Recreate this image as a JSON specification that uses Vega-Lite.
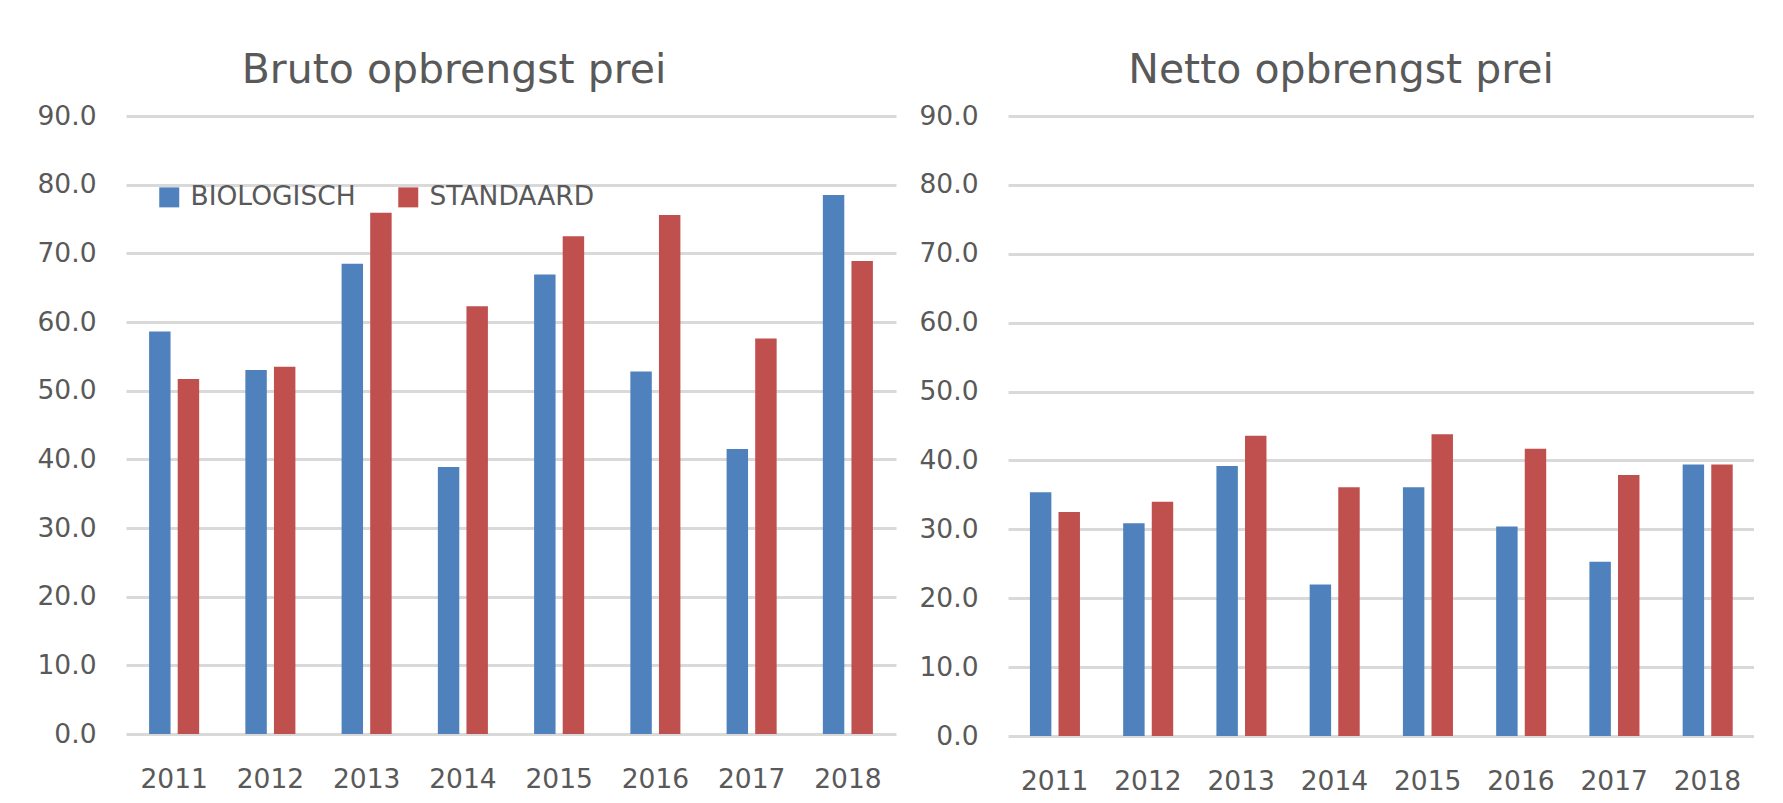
{
  "$schema": "https://vega.github.io/schema/vega-lite/v6.json",
  "background": "white",
  "padding": {"left": 36, "top": 50, "right": 0, "bottom": 0},
  "spacing": 22,
  "data": {
    "values": [
      {"panel": "Bruto", "year": "2011", "type": "BIOLOGISCH", "value": 58.6},
      {"panel": "Bruto", "year": "2012", "type": "BIOLOGISCH", "value": 53.0},
      {"panel": "Bruto", "year": "2013", "type": "BIOLOGISCH", "value": 68.5},
      {"panel": "Bruto", "year": "2014", "type": "BIOLOGISCH", "value": 38.9},
      {"panel": "Bruto", "year": "2015", "type": "BIOLOGISCH", "value": 66.9},
      {"panel": "Bruto", "year": "2016", "type": "BIOLOGISCH", "value": 52.8},
      {"panel": "Bruto", "year": "2017", "type": "BIOLOGISCH", "value": 41.5},
      {"panel": "Bruto", "year": "2018", "type": "BIOLOGISCH", "value": 78.5},
      {"panel": "Bruto", "year": "2011", "type": "STANDAARD", "value": 51.7},
      {"panel": "Bruto", "year": "2012", "type": "STANDAARD", "value": 53.5},
      {"panel": "Bruto", "year": "2013", "type": "STANDAARD", "value": 75.9},
      {"panel": "Bruto", "year": "2014", "type": "STANDAARD", "value": 62.3},
      {"panel": "Bruto", "year": "2015", "type": "STANDAARD", "value": 72.5},
      {"panel": "Bruto", "year": "2016", "type": "STANDAARD", "value": 75.6},
      {"panel": "Bruto", "year": "2017", "type": "STANDAARD", "value": 57.6},
      {"panel": "Bruto", "year": "2018", "type": "STANDAARD", "value": 68.9},
      {"panel": "Netto", "year": "2011", "type": "BIOLOGISCH", "value": 35.4},
      {"panel": "Netto", "year": "2012", "type": "BIOLOGISCH", "value": 30.9},
      {"panel": "Netto", "year": "2013", "type": "BIOLOGISCH", "value": 39.2},
      {"panel": "Netto", "year": "2014", "type": "BIOLOGISCH", "value": 22.0},
      {"panel": "Netto", "year": "2015", "type": "BIOLOGISCH", "value": 36.1},
      {"panel": "Netto", "year": "2016", "type": "BIOLOGISCH", "value": 30.4},
      {"panel": "Netto", "year": "2017", "type": "BIOLOGISCH", "value": 25.3},
      {"panel": "Netto", "year": "2018", "type": "BIOLOGISCH", "value": 39.4},
      {"panel": "Netto", "year": "2011", "type": "STANDAARD", "value": 32.5},
      {"panel": "Netto", "year": "2012", "type": "STANDAARD", "value": 34.0},
      {"panel": "Netto", "year": "2013", "type": "STANDAARD", "value": 43.6},
      {"panel": "Netto", "year": "2014", "type": "STANDAARD", "value": 36.1},
      {"panel": "Netto", "year": "2015", "type": "STANDAARD", "value": 43.8},
      {"panel": "Netto", "year": "2016", "type": "STANDAARD", "value": 41.7},
      {"panel": "Netto", "year": "2017", "type": "STANDAARD", "value": 37.9},
      {"panel": "Netto", "year": "2018", "type": "STANDAARD", "value": 39.4}
    ]
  },
  "config": {
    "font": "DejaVu Sans",
    "view": {"stroke": null},
    "axis": {
      "labelFont": "DejaVu Sans",
      "labelColor": "#595959",
      "labelFontSize": 26.5,
      "ticks": false,
      "domain": false,
      "title": null
    },
    "title": {
      "font": "DejaVu Sans",
      "fontSize": 41,
      "fontWeight": "normal",
      "color": "#595959",
      "anchor": "middle",
      "frame": "group",
      "offset": 11
    },
    "legend": {
      "orient": "none",
      "legendX": 30,
      "legendY": 68,
      "direction": "horizontal",
      "title": null,
      "symbolType": "square",
      "symbolSize": 400,
      "symbolStrokeWidth": 0,
      "symbolOpacity": 1,
      "labelFont": "DejaVu Sans",
      "labelFontSize": 26.5,
      "labelColor": "#595959",
      "labelLimit": 0,
      "labelOffset": 8,
      "columnPadding": 39,
      "padding": 0
    }
  },
  "resolve": {"legend": {"color": "independent"}},
  "hconcat": [
    {
      "transform": [{"filter": "datum.panel === 'Bruto'"}],
      "width": 770,
      "height": 618,
      "title": {"text": "Bruto opbrengst prei", "dx": -57},
      "mark": {"type": "bar"},
      "encoding": {
        "x": {
          "field": "year", "type": "nominal", "sort": null,
          "scale": {"paddingInner": 0.48, "paddingOuter": 0.24},
          "axis": {"labelAngle": 0, "grid": false, "labelPadding": 32}
        },
        "xOffset": {
          "field": "type", "type": "nominal",
          "scale": {"domain": ["BIOLOGISCH", "STANDAARD"], "paddingInner": 0.25, "paddingOuter": 0}
        },
        "y": {
          "field": "value", "type": "quantitative",
          "scale": {"domain": [0, 90]},
          "axis": {
            "values": [0, 10, 20, 30, 40, 50, 60, 70, 80, 90],
            "format": ".1f",
            "grid": true,
            "gridColor": "#D9D9D9",
            "gridWidth": 3,
            "labelPadding": 30
          }
        },
        "color": {
          "field": "type", "type": "nominal",
          "scale": {"domain": ["BIOLOGISCH", "STANDAARD"], "range": ["#4F81BD", "#C0504D"]}
        }
      }
    },
    {
      "transform": [{"filter": "datum.panel === 'Netto'"}],
      "width": 746,
      "height": 620,
      "title": {"text": "Netto opbrengst prei", "dx": -40},
      "mark": {"type": "bar"},
      "encoding": {
        "x": {
          "field": "year", "type": "nominal", "sort": null,
          "scale": {"paddingInner": 0.47, "paddingOuter": 0.235},
          "axis": {"labelAngle": 0, "grid": false, "labelPadding": 32}
        },
        "xOffset": {
          "field": "type", "type": "nominal",
          "scale": {"domain": ["BIOLOGISCH", "STANDAARD"], "paddingInner": 0.2, "paddingOuter": 0}
        },
        "y": {
          "field": "value", "type": "quantitative",
          "scale": {"domain": [0, 90]},
          "axis": {
            "values": [0, 10, 20, 30, 40, 50, 60, 70, 80, 90],
            "format": ".1f",
            "grid": true,
            "gridColor": "#D9D9D9",
            "gridWidth": 3,
            "labelPadding": 30
          }
        },
        "color": {
          "field": "type", "type": "nominal",
          "scale": {"domain": ["BIOLOGISCH", "STANDAARD"], "range": ["#4F81BD", "#C0504D"]},
          "legend": null
        }
      }
    }
  ]
}
